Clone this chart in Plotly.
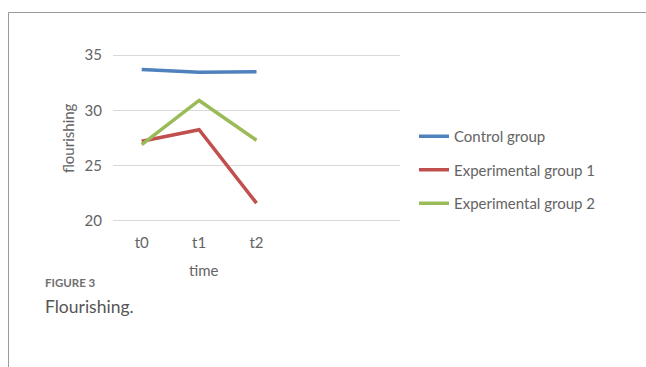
import plotly.graph_objects as go

categories = ["t0", "t1", "t2"]
control = [33.7, 33.45, 33.5]
exp1 = [27.2, 28.25, 21.6]
exp2 = [26.9, 30.9, 27.3]
series_names = ["Control group", "Experimental group 1", "Experimental group 2"]
colors = ["#4F81BD", "#C0504D", "#9BBB59"]

FONT = "Lato, Open Sans, sans-serif"
TXT = "#646464"

# plot area: top 53, bottom 224 (range padded so 35 and 20 grid lines show)
T, B = 53, 144
H = 367 - T - B

def py(pix):
    # paper y coordinate for a pixel row
    return (367 - B - pix) / H

fig = go.Figure()
for i, (name, vals) in enumerate(zip(series_names, [control, exp1, exp2])):
    fig.add_trace(go.Scatter(
        x=categories, y=vals, mode="lines", name=name,
        line=dict(color=colors[i], width=3.5),
        legendgroup=f"g{i}",
    ))

fig.update_layout(
    width=646, height=367,
    margin=dict(l=113, r=246, t=T, b=B),
    paper_bgcolor="white", plot_bgcolor="white",
    font=dict(family=FONT, size=15, color=TXT),
    showlegend=True,
    legend=dict(
        x=(414 - 113) / 287, y=py(170), xanchor="left", yanchor="middle",
        font=dict(family=FONT, size=15, color=TXT),
        tracegroupgap=11, itemwidth=30,
        bgcolor="rgba(0,0,0,0)",
    ),
    xaxis=dict(
        type="category", categoryorder="array", categoryarray=categories,
        range=[-0.5, 4.5], showgrid=False, showline=False, zeroline=False,
        ticks="", tickfont=dict(family=FONT, size=15, color=TXT),
        ticklabelstandoff=9,
    ),
    yaxis=dict(
        range=[19.8, 35.2], tickvals=[20, 25, 30, 35], showgrid=True,
        gridcolor="#D9D9D9", gridwidth=1, zeroline=False, showline=False,
        ticks="", tickfont=dict(family=FONT, size=15, color=TXT),
        ticklabelstandoff=10,
    ),
    annotations=[
        dict(text="time", xref="paper", yref="paper",
             x=(204 - 113) / 287, y=py(270), xanchor="center", yanchor="middle",
             showarrow=False, font=dict(family=FONT, size=15, color=TXT)),
        dict(text="flourishing", xref="paper", yref="paper", textangle=-90,
             x=-(113 - 68) / 287, y=py(138), xanchor="center", yanchor="middle",
             showarrow=False, font=dict(family=FONT, size=15, color=TXT)),
        dict(text="FIGURE 3", xref="paper", yref="paper",
             x=-(113 - 43) / 287, y=py(282), xanchor="left", yanchor="middle",
             showarrow=False, font=dict(family=FONT, size=11.5, color="#707070", weight=700)),
        dict(text="Flourishing.", xref="paper", yref="paper",
             x=-(113 - 43) / 287, y=py(306), xanchor="left", yanchor="middle",
             showarrow=False, font=dict(family=FONT, size=17.5, color="#555555")),
    ],
    shapes=[
        dict(type="line", xref="paper", yref="paper",
             x0=-(113 - 8.5) / 287, x1=-(113 - 8.5) / 287,
             y0=py(12.5), y1=py(367),
             line=dict(color="#9A9A9A", width=1)),
        dict(type="line", xref="paper", yref="paper",
             x0=-(113 - 8.5) / 287, x1=1 + 246 / 287,
             y0=py(12.5), y1=py(12.5),
             line=dict(color="#9A9A9A", width=1)),
    ],
)

fig.write_html("out.html")
